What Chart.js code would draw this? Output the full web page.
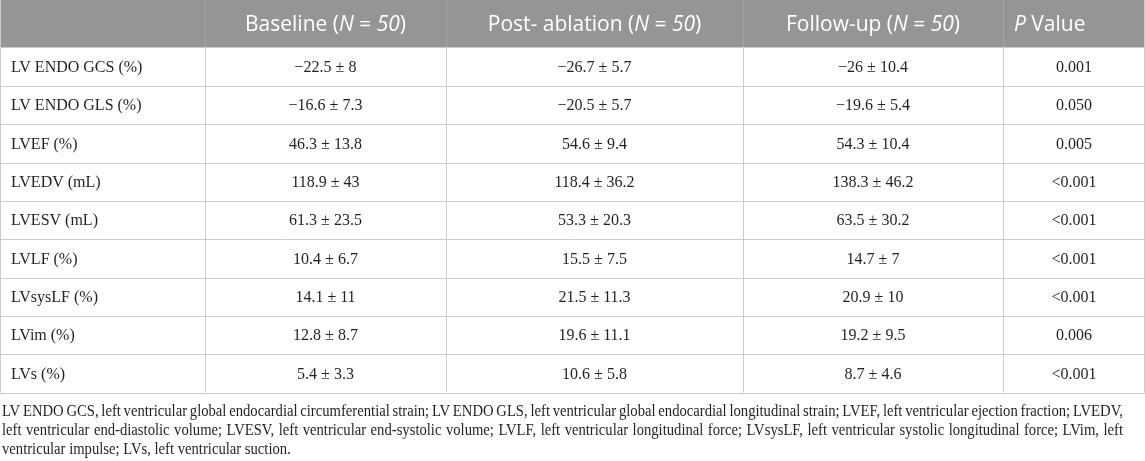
<!DOCTYPE html>
<html>
<head>
<meta charset="utf-8">
<script src="https://cdn.jsdelivr.net/npm/chart.js@4"></script>
<style>
html,body{margin:0;padding:0;background:#fff;}
canvas{display:block;}
</style>
</head>
<body>
<canvas id="c" width="1145" height="461" style="width:1145px;height:461px"></canvas>
<script>
// ---- data ----
const rowLabels = ["LV ENDO GCS (%)", "LV ENDO GLS (%)", "LVEF (%)", "LVEDV (mL)", "LVESV (mL)", "LVLF (%)", "LVsysLF (%)", "LVim (%)", "LVs (%)"];
const baselineMean = [-22.5, -16.6, 46.3, 118.9, 61.3, 10.4, 14.1, 12.8, 5.4];
const baselineSD   = [8, 7.3, 13.8, 43, 23.5, 6.7, 11, 8.7, 3.3];
const postMean     = [-26.7, -20.5, 54.6, 118.4, 53.3, 15.5, 21.5, 19.6, 10.6];
const postSD       = [5.7, 5.7, 9.4, 36.2, 20.3, 7.5, 11.3, 11.1, 5.8];
const followMean   = [-26, -19.6, 54.3, 138.3, 63.5, 14.7, 20.9, 19.2, 8.7];
const followSD     = [10.4, 5.4, 10.4, 46.2, 30.2, 7, 10, 9.5, 4.6];
const pValues      = ["0.001", "0.050", "0.005", "<0.001", "<0.001", "<0.001", "<0.001", "0.006", "<0.001"];
const headerParts = [
  [],
  [["Baseline (", false], ["N", true], [" = ", false], ["50", true], [")", false]],
  [["Post- ablation (", false], ["N", true], [" = ", false], ["50", true], [")", false]],
  [["Follow-up (", false], ["N", true], [" = ", false], ["50", true], [")", false]],
  [["P", true], [" Value", false]]
];
const footnoteLines = [
  "LV ENDO GCS, left ventricular global endocardial circumferential strain; LV ENDO GLS, left ventricular global endocardial longitudinal strain; LVEF, left ventricular ejection fraction; LVEDV,",
  "left ventricular end-diastolic volume; LVESV, left ventricular end-systolic volume; LVLF, left ventricular longitudinal force; LVsysLF, left ventricular systolic longitudinal force; LVim, left",
  "ventricular impulse; LVs, left ventricular suction."
];

// ---- layout (not data) ----
const colEdges = [0, 205, 446, 743, 1003, 1145];
const headerBottom = 47.5;
const tableBottom = 392.5;

function fmt(v){ return String(v).replace("-", "\u2212"); }
function cell(m, s){ return fmt(m) + " \u00b1 " + fmt(s); }

const tablePlugin = {
  id: 'tablePlugin',
  beforeDraw(chart){
    const ctx = chart.ctx;
    const xs = chart.scales.x, ys = chart.scales.y;
    const W = chart.width, H = chart.height;
    ctx.save();
    ctx.fillStyle = '#ffffff';
    ctx.fillRect(0, 0, W, H);
    const xE = colEdges.map(e => xs.getPixelForValue(e));
    const left = xE[0], right = xE[xE.length - 1];
    const rowH = ys.getPixelForValue(1) - ys.getPixelForValue(0);
    const top = ys.getPixelForValue(0) - rowH / 2;
    const bottom = ys.getPixelForValue(rowLabels.length - 1) + rowH / 2;

    // header
    ctx.fillStyle = '#959595';
    ctx.fillRect(left, 0, right - left, top);
    ctx.strokeStyle = '#a6a6a6';
    ctx.lineWidth = 1;
    for (let i = 1; i < xE.length - 1; i++) {
      const x = Math.round(xE[i]) + 0.5;
      ctx.beginPath(); ctx.moveTo(x, 0); ctx.lineTo(x, top); ctx.stroke();
    }
    // header texts
    const hFont = '21px "Open Sans"';
    ctx.fillStyle = '#ffffff';
    ctx.textBaseline = 'middle';
    ctx.textAlign = 'left';
    const hy = top / 2 + 1;
    headerParts.forEach((parts, ci) => {
      if (!parts.length) return;
      let total = 0;
      const widths = parts.map(([t, it]) => {
        ctx.font = (it ? 'italic ' : '') + hFont;
        const w = ctx.measureText(t).width; total += w; return w;
      });
      let x;
      if (ci === headerParts.length - 1) x = xE[ci] + 11;
      else x = (xE[ci] + xE[ci + 1]) / 2 - total / 2;
      parts.forEach(([t, it], k) => {
        ctx.font = (it ? 'italic ' : '') + hFont;
        ctx.fillText(t, x, hy);
        x += widths[k];
      });
    });

    // grid
    ctx.strokeStyle = '#cbcbcb';
    ctx.lineWidth = 1;
    for (let i = 0; i <= rowLabels.length; i++) {
      const y = Math.round(top + i * rowH) + 0.5;
      ctx.beginPath(); ctx.moveTo(left, y); ctx.lineTo(right, y); ctx.stroke();
    }
    for (let i = 0; i < xE.length; i++) {
      let x = Math.round(xE[i]) + 0.5;
      if (i === 0) x = 0.5;
      if (i === xE.length - 1) x = right - 0.5;
      ctx.beginPath(); ctx.moveTo(x, (i === 0 || i === xE.length - 1) ? 0 : top); ctx.lineTo(x, bottom); ctx.stroke();
    }

    // body texts
    ctx.fillStyle = '#231f20';
    ctx.font = '16px "Liberation Serif"';
    rowLabels.forEach((lab, r) => {
      const y = ys.getPixelForValue(r) + 1;
      ctx.textAlign = 'left';
      ctx.fillText(lab, xE[0] + 11, y);
      ctx.textAlign = 'center';
      const cols = [cell(baselineMean[r], baselineSD[r]), cell(postMean[r], postSD[r]), cell(followMean[r], followSD[r]), pValues[r]];
      cols.forEach((t, c) => {
        ctx.fillText(t, (xE[c + 1] + xE[c + 2]) / 2, y);
      });
    });

    // footnote
    ctx.font = '16px "Liberation Serif"';
    ctx.textAlign = 'left';
    ctx.textBaseline = 'alphabetic';
    const fx0 = 2, fx1 = 1123;
    const target = fx1 - fx0;
    const spaceW = ctx.measureText(' ').width;
    const w0 = ctx.measureText(footnoteLines[0]).width;
    const squeeze = Math.min(1, target / (w0 - 0.25 * spaceW * (footnoteLines[0].split(' ').length - 1)));
    const baselines = [416, 435, 454];
    footnoteLines.forEach((line, li) => {
      const words = line.split(' ');
      const ww = words.map(w => ctx.measureText(w).width * squeeze);
      const sumW = ww.reduce((a, b) => a + b, 0);
      let gap = spaceW * squeeze;
      if (li < footnoteLines.length - 1) gap = (target - sumW) / (words.length - 1);
      let x = fx0;
      words.forEach((w, k) => {
        ctx.save();
        ctx.translate(x, baselines[li]);
        ctx.scale(squeeze, 1);
        ctx.fillText(w, 0, 0);
        ctx.restore();
        x += ww[k] + gap;
      });
    });
    ctx.restore();
  }
};

new Chart(document.getElementById('c'), {
  type: 'scatter',
  data: { labels: rowLabels, datasets: [{ data: [], showLine: false }] },
  options: {
    responsive: false,
    animation: false,
    devicePixelRatio: 1,
    events: [],
    layout: { padding: { top: headerBottom, bottom: 461 - tableBottom, left: 0, right: 0 } },
    plugins: { legend: { display: false }, tooltip: { enabled: false } },
    scales: {
      x: { type: 'linear', min: 0, max: 1145, display: false },
      y: { type: 'category', labels: rowLabels, offset: true, display: false }
    }
  },
  plugins: [tablePlugin]
});
</script>
</body>
</html>
